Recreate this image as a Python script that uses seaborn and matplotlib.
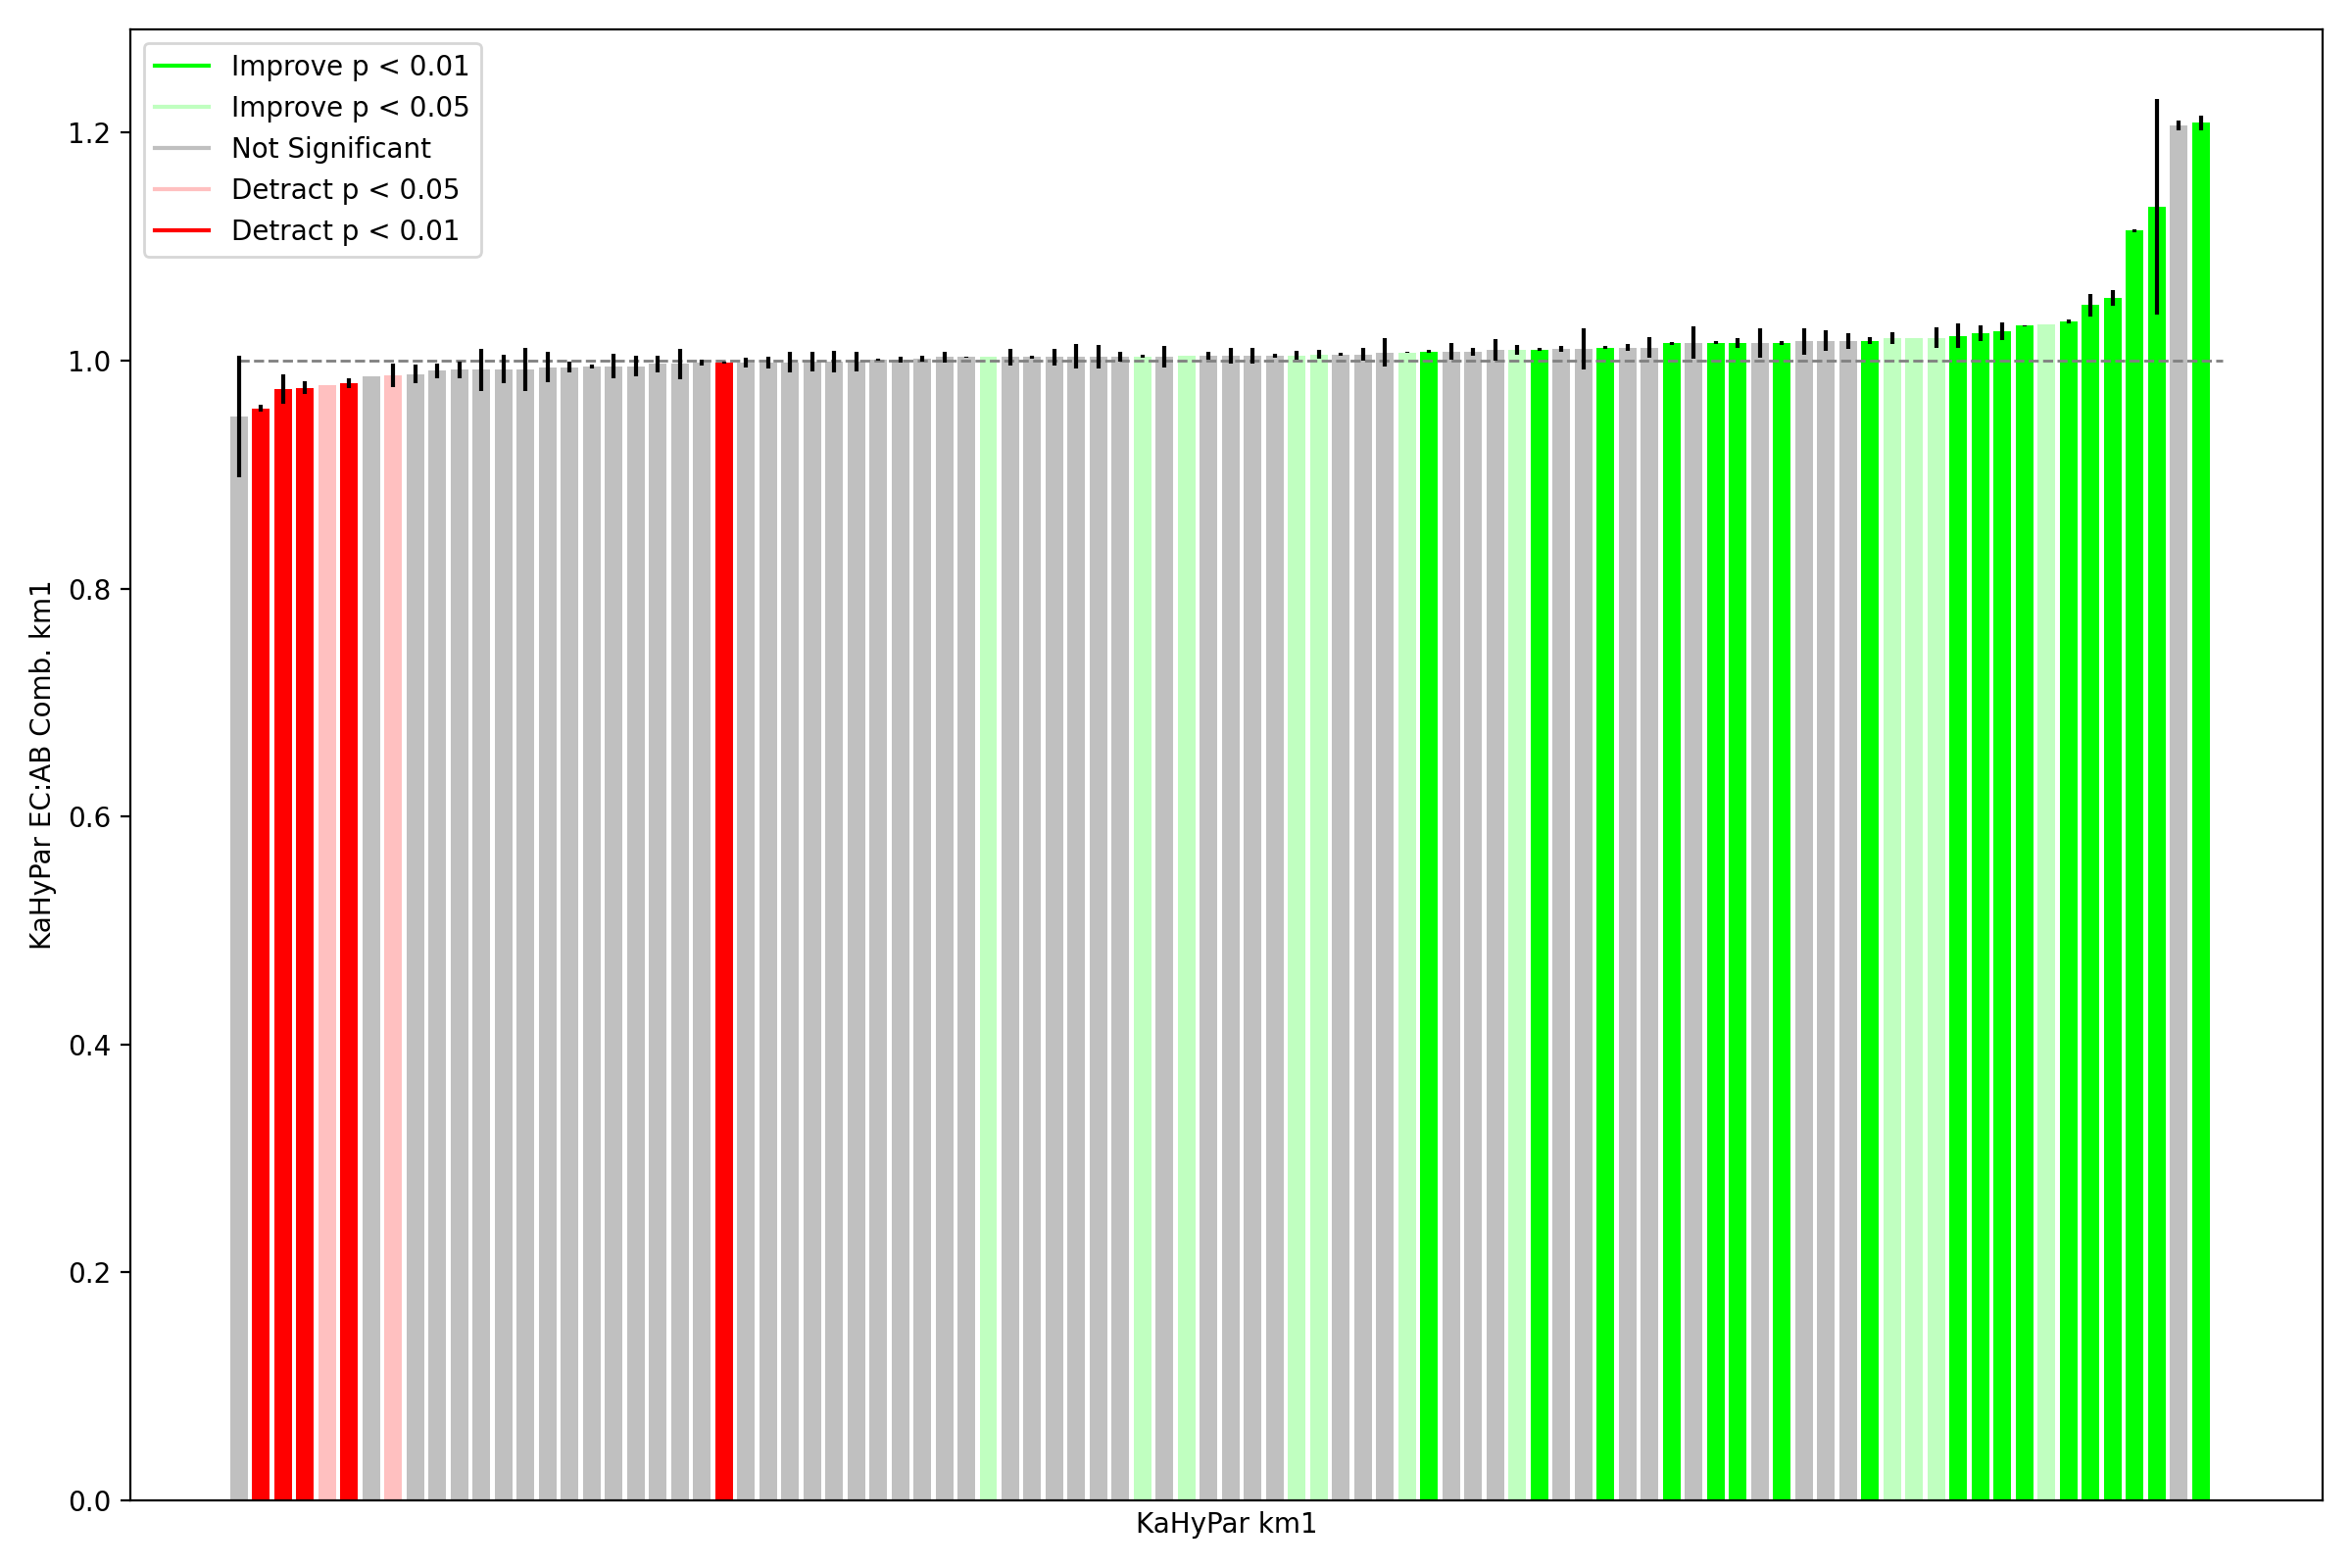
import numpy as np
import pandas as pd
import matplotlib
matplotlib.use("Agg")
import matplotlib.pyplot as plt
import seaborn as sns
from matplotlib.lines import Line2D

# ratio per instance, sorted ascending
ratio = [0.951, 0.958, 0.975, 0.976, 0.978, 0.980, 0.986, 0.987, 0.988, 0.991,
         0.992, 0.992, 0.9925, 0.9925, 0.994, 0.994, 0.995, 0.995, 0.995, 0.997,
         0.997, 0.998, 0.998, 0.998, 0.998, 0.9986, 0.9994, 0.9994, 0.9994, 1.001,
         1.001, 1.002, 1.003, 1.003, 1.003, 1.003, 1.003, 1.003, 1.0037, 1.0037,
         1.0037, 1.0037, 1.0037, 1.0046, 1.0046, 1.0046, 1.0046, 1.0046, 1.0046, 1.0055,
         1.0055, 1.0055, 1.0072, 1.0072, 1.008, 1.008, 1.008, 1.009, 1.009, 1.0098,
         1.0106, 1.0106, 1.0115, 1.0115, 1.0115, 1.015, 1.0158, 1.0158, 1.0158, 1.0158,
         1.0158, 1.0167, 1.0175, 1.0175, 1.0175, 1.020, 1.020, 1.020, 1.0218, 1.0244,
         1.026, 1.0305, 1.032, 1.034, 1.0486, 1.0546, 1.114, 1.1347, 1.2063, 1.2088]

err = [0.053, 0.003, 0.0125, 0.0056, 0.0, 0.0043, 0.0, 0.0103, 0.0082, 0.0065,
       0.0073, 0.0185, 0.0125, 0.019, 0.0134, 0.0047, 0.0017, 0.0108, 0.009, 0.0073,
       0.0134, 0.0026, 0.001, 0.0043, 0.005, 0.009, 0.0086, 0.0095, 0.0086, 0.001,
       0.0026, 0.0026, 0.0047, 0.0005, 0.0, 0.0073, 0.0013, 0.0073, 0.0108, 0.0103,
       0.0043, 0.0013, 0.0095, 0.0, 0.0034, 0.0069, 0.0069, 0.0017, 0.0039, 0.0039,
       0.0017, 0.0056, 0.0125, 0.0005, 0.0013, 0.0073, 0.0034, 0.0095, 0.0043, 0.0009,
       0.0026, 0.018, 0.0013, 0.003, 0.009, 0.0009, 0.0138, 0.0009, 0.0043, 0.0129,
       0.0017, 0.0112, 0.009, 0.0069, 0.003, 0.0052, 0.0, 0.009, 0.0108, 0.0069,
       0.0078, 0.0005, 0.0, 0.0017, 0.0099, 0.0069, 0.0013, 0.0944, 0.0039, 0.0065]

# significance class per bar
# I1 improve p<0.01, I5 improve p<0.05, NS, D5 detract p<0.05, D1 detract p<0.01
sig = (["NS", "D1", "D1", "D1", "D5", "D1", "NS", "D5"] + ["NS"] * 14 + ["D1"]
       + ["NS"] * 11 + ["I5"] + ["NS"] * 6 + ["I5", "NS", "I5"] + ["NS"] * 4
       + ["I5", "I5", "NS", "NS", "NS", "I5", "I1", "NS", "NS", "NS", "I5", "I1",
          "NS", "NS", "I1", "NS", "NS", "I1", "NS", "I1", "I1", "NS", "I1", "NS",
          "NS", "NS", "I1", "I5", "I5", "I5", "I1", "I1", "I1", "I1", "I5", "I1",
          "I1", "I1", "I1", "I1", "NS", "I1"])

labels = ["Improve p < 0.01", "Improve p < 0.05", "Not Significant",
          "Detract p < 0.05", "Detract p < 0.01"]
cols = {"I1": "#00ff00", "I5": "#c0ffc0", "NS": "#c0c0c0",
        "D5": "#ffc0c0", "D1": "#ff0000"}

df = pd.DataFrame({"inst": np.arange(len(ratio)), "ratio": ratio, "err": err, "sig": sig})

fig, ax = plt.subplots(figsize=(12, 8), dpi=200)
sns.barplot(data=df, x="inst", y="ratio", hue="sig", palette=cols, dodge=False,
            saturation=1, errorbar=None, legend=False, linewidth=0, ax=ax)
ax.plot([0, len(ratio)], [1, 1], "--", color="gray", linewidth=1)
ax.errorbar(df["inst"], df["ratio"], yerr=df["err"], fmt="none", ecolor="black")
ax.autoscale(enable=True, axis="x")

handles = [Line2D([0], [0], color=cols[k]) for k in ["I1", "I5", "NS", "D5", "D1"]]
ax.legend(handles, labels, loc="upper left")
ax.set_xticks([])
ax.set_xlabel("KaHyPar km1")
ax.set_ylabel("KaHyPar EC:AB Comb. km1")
plt.tight_layout()
plt.savefig("out.png")
